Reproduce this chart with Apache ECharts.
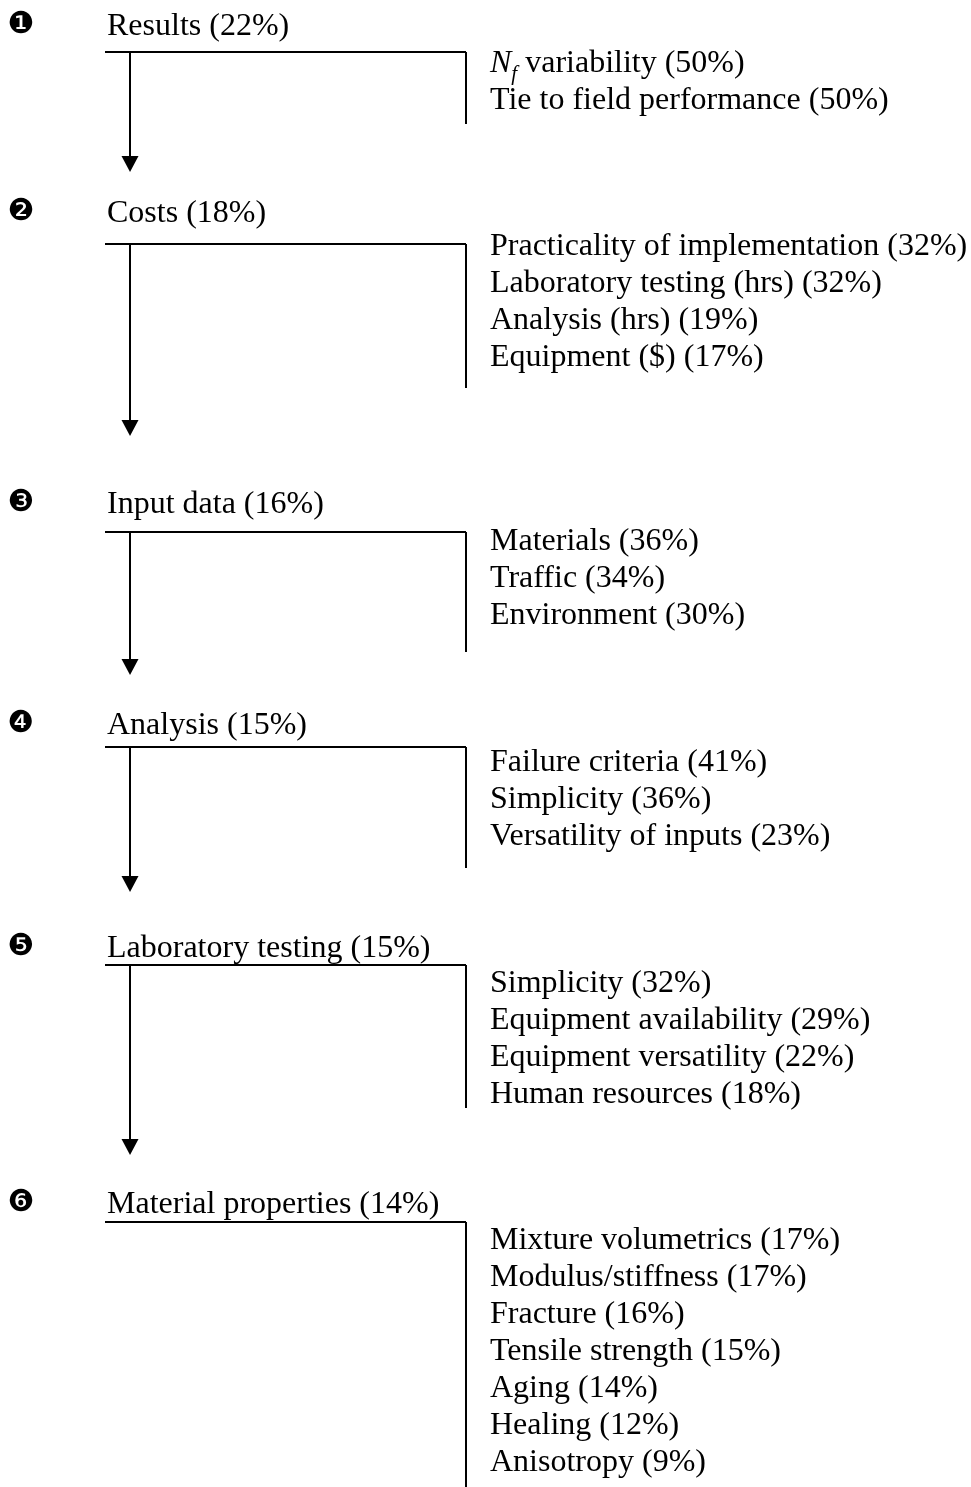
<!DOCTYPE html>
<html>
<head>
<meta charset="utf-8">
<script src="https://cdn.jsdelivr.net/npm/echarts@6/dist/echarts.min.js"></script>
<style>
html,body{margin:0;padding:0;background:#fff;}
#chart{width:971px;height:1487px;}
</style>
</head>
<body>
<div id="chart"></div>
<script>
// ---------------- data ----------------
const markers = ['\u2776', '\u2777', '\u2778', '\u2779', '\u277A', '\u277B'];
const categories = ['Results', 'Costs', 'Input data', 'Analysis', 'Laboratory testing', 'Material properties'];
const categoryShares = [22, 18, 16, 15, 15, 14];
const subCriteria = [
  ['N_f variability', 'Tie to field performance'],
  ['Practicality of implementation', 'Laboratory testing (hrs)', 'Analysis (hrs)', 'Equipment ($)'],
  ['Materials', 'Traffic', 'Environment'],
  ['Failure criteria', 'Simplicity', 'Versatility of inputs'],
  ['Simplicity', 'Equipment availability', 'Equipment versatility', 'Human resources'],
  ['Mixture volumetrics', 'Modulus/stiffness', 'Fracture', 'Tensile strength', 'Aging', 'Healing', 'Anisotropy']
];
const subShares = [
  [50, 50],
  [32, 32, 19, 17],
  [36, 34, 30],
  [41, 36, 23],
  [32, 29, 22, 18],
  [17, 17, 16, 15, 14, 12, 9]
];

// ---------------- layout (page coordinate space) ----------------
const W = 971, H = 1487;
const markerX = 21, titleX = 107, barX0 = 105, barX1 = 466, arrowX = 130, itemX = 490;
const lineStep = 37;
const textShift = 3;
const titleY = [24, 211, 502, 723, 946, 1202];
const barY = [52, 244, 532, 747, 965, 1222];
const firstItemY = [62, 245, 540, 761, 982, 1239];
const stemEndY = [124, 388, 652, 868, 1108, 1487];
const arrowTipY = [172, 436, 675, 892, 1155, null];
const FONT = '"Liberation Serif","Times New Roman",serif';
const FS = 32;

const chart = echarts.init(document.getElementById('chart'), null, {renderer: 'canvas'});

function itemText(name, share) {
  const m = name.match(/^([A-Za-z])_([A-Za-z])(.*)$/);
  if (m) {
    return {
      text: '{i|' + m[1] + '}{s|' + m[2] + '}{n|' + m[3] + ' (' + share + '%)}',
      rich: {
        i: {fontFamily: FONT, fontSize: FS, fontStyle: 'italic', lineHeight: 42, verticalAlign: 'middle', fill: '#000'},
        s: {fontFamily: FONT, fontSize: 21, fontStyle: 'italic', lineHeight: 42, verticalAlign: 'bottom', fill: '#000'},
        n: {fontFamily: FONT, fontSize: FS, lineHeight: 42, verticalAlign: 'middle', fill: '#000'}
      }
    };
  }
  return {text: name + ' (' + share + '%)'};
}

function renderItem(params, api) {
  const g = api.value(0);
  const c = (x, y) => api.coord([x, y]);
  const children = [];
  const pm = c(markerX, titleY[g] + 1);
  children.push({type: 'text', style: {text: markers[g], x: pm[0], y: pm[1], align: 'center', verticalAlign: 'middle',
    font: '30px "DejaVu Sans"', fill: '#000'}});
  const pt = c(titleX, titleY[g] + textShift);
  children.push({type: 'text', style: {text: categories[g] + ' (' + categoryShares[g] + '%)', x: pt[0], y: pt[1],
    align: 'left', verticalAlign: 'middle', font: FS + 'px ' + FONT, fill: '#000'}});
  const b0 = c(barX0, barY[g]), b1 = c(barX1, barY[g]);
  children.push({type: 'line', shape: {x1: b0[0], y1: b0[1], x2: b1[0], y2: b1[1]}, style: {stroke: '#000', lineWidth: 2}});
  const s1 = c(barX1, stemEndY[g]);
  children.push({type: 'line', shape: {x1: b1[0], y1: b1[1], x2: s1[0], y2: s1[1]}, style: {stroke: '#000', lineWidth: 2}});
  if (arrowTipY[g] != null) {
    const a0 = c(arrowX, barY[g]);
    const tip = c(arrowX, arrowTipY[g]);
    const headL = c(arrowX - 8.5, arrowTipY[g] - 16);
    const headR = c(arrowX + 8.5, arrowTipY[g] - 16);
    children.push({type: 'line', shape: {x1: a0[0], y1: a0[1], x2: tip[0], y2: headL[1] + 1}, style: {stroke: '#000', lineWidth: 2}});
    children.push({type: 'polygon', shape: {points: [headL, headR, tip]}, style: {fill: '#000'}});
  }
  subCriteria[g].forEach((name, k) => {
    const p = c(itemX, firstItemY[g] + k * lineStep + textShift - 1);
    const t = itemText(name, subShares[g][k]);
    const style = {text: t.text, x: p[0], y: p[1], align: 'left', verticalAlign: 'middle', font: FS + 'px ' + FONT, fill: '#000'};
    if (t.rich) style.rich = t.rich;
    children.push({type: 'text', style: style});
  });
  return {type: 'group', children: children};
}

chart.setOption({
  backgroundColor: '#fff',
  animation: false,
  grid: {left: 0, right: 0, top: 0, bottom: 0},
  xAxis: {type: 'value', min: 0, max: W, show: false},
  yAxis: {type: 'value', min: 0, max: H, inverse: true, show: false},
  series: [{
    type: 'custom',
    coordinateSystem: 'cartesian2d',
    clip: false,
    renderItem: renderItem,
    data: categories.map((_, i) => [i]),
    encode: {x: -1, y: -1}
  }]
});
</script>
</body>
</html>
